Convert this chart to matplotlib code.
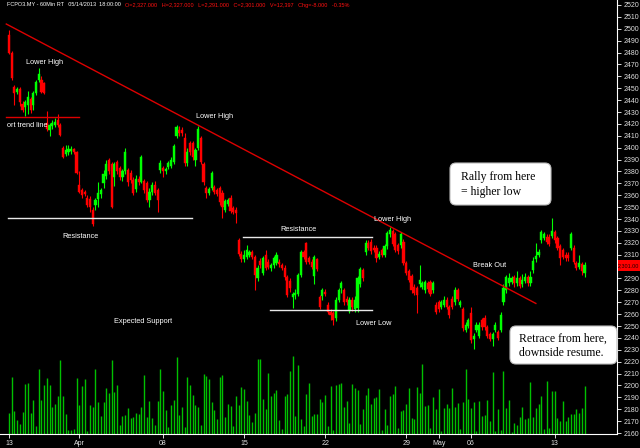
import matplotlib
matplotlib.use("Agg")
import matplotlib.pyplot as plt
from matplotlib.patches import FancyBboxPatch, Rectangle
from matplotlib.transforms import IdentityTransform

plt.rcParams['font.family'] = ['Liberation Sans', 'DejaVu Sans']

# ---------------- data (hourly FCPO3 candles) ----------------
opens = [2495,2480,2451,2447,2449,2437,2434,2436,2441,2436,2446,2457,2457,2454,2421,2415,2418,2419,2423,2419,
         2400,2395,2396,2397,2399,2396,2369,2364,2363,2358,2357,2348,2352,2357,2361,2370,2376,2390,2386,2375,
         2388,2383,2375,2380,2381,2379,2373,2365,2374,2371,2372,2370,2356,2363,2369,2364,2381,2383,2380,2384,
         2385,2388,2410,2415,2415,2408,2387,2404,2404,2390,2400,2408,2386,2366,2362,2366,2367,2364,2366,2362,
         2348,2353,2358,2349,2348,2322,2311,2306,2308,2310,2312,2308,2290,2305,2295,2310,2304,2299,2301,2303,
         2304,2301,2299,2291,2288,2274,2276,2277,2293,2312,2320,2307,2304,2292,2306,2274,2275,2279,2268,2262,
         2261,2257,2272,2282,2280,2273,2263,2272,2264,2265,2285,2297,2312,2320,2321,2316,2316,2308,2314,2310,
         2317,2327,2330,2327,2318,2318,2321,2303,2296,2292,2283,2282,2285,2283,2280,2286,2287,2280,2268,2270,
         2266,2268,2272,2266,2273,2270,2280,2268,2264,2247,2250,2261,2239,2247,2242,2255,2257,2249,2243,2239,
         2247,2245,2247,2270,2280,2286,2287,2291,2286,2290,2285,2288,2291,2286,2297,2306,2310,2322,2324,2325,
         2325,2326,2329,2324,2317,2314,2310,2310,2316,2316,2303,2300,2302,2295]
highs = [2499,2481,2453,2451,2451,2439,2440,2448,2443,2448,2457,2467,2460,2455,2431,2421,2423,2425,2428,2421,
         2401,2402,2402,2401,2400,2397,2380,2366,2364,2360,2359,2350,2358,2371,2366,2381,2390,2391,2388,2388,
         2390,2385,2382,2400,2383,2381,2375,2377,2376,2394,2374,2372,2366,2371,2372,2366,2390,2385,2384,2389,
         2392,2403,2419,2418,2417,2412,2400,2406,2406,2400,2418,2410,2388,2368,2367,2380,2369,2366,2368,2364,
         2357,2358,2360,2351,2350,2324,2313,2314,2318,2314,2314,2310,2301,2307,2309,2314,2306,2303,2309,2312,
         2306,2303,2301,2293,2290,2279,2281,2295,2314,2314,2321,2309,2306,2310,2307,2276,2282,2281,2270,2264,
         2263,2274,2282,2288,2282,2275,2274,2274,2275,2292,2300,2299,2322,2322,2323,2318,2318,2313,2316,2319,
         2330,2333,2332,2329,2320,2329,2323,2305,2298,2294,2285,2284,2301,2288,2289,2288,2289,2288,2270,2272,
         2272,2275,2274,2268,2275,2283,2282,2272,2266,2253,2257,2266,2244,2253,2253,2257,2259,2251,2245,2245,
         2253,2247,2262,2285,2293,2295,2292,2293,2296,2292,2294,2295,2293,2296,2308,2320,2315,2331,2329,2327,
         2327,2341,2331,2326,2319,2316,2312,2312,2329,2318,2305,2310,2304,2304]
lows = [2479,2457,2436,2445,2435,2430,2427,2428,2429,2432,2444,2455,2446,2445,2414,2410,2416,2417,2417,2410,
        2391,2393,2394,2395,2395,2378,2362,2358,2359,2350,2346,2334,2348,2350,2358,2366,2374,2378,2349,2368,
        2378,2373,2372,2378,2368,2370,2360,2363,2369,2370,2362,2354,2350,2360,2360,2346,2379,2375,2378,2382,
        2383,2386,2408,2410,2410,2385,2385,2394,2390,2385,2398,2386,2369,2358,2360,2364,2361,2359,2352,2341,
        2346,2351,2345,2344,2337,2309,2304,2304,2306,2308,2306,2280,2288,2299,2293,2297,2298,2296,2299,2301,
        2300,2297,2289,2274,2279,2265,2273,2275,2291,2306,2302,2302,2298,2285,2296,2264,2272,2275,2260,2255,
        2251,2254,2270,2278,2268,2268,2261,2263,2262,2262,2283,2288,2310,2314,2311,2312,2304,2306,2308,2308,
        2315,2325,2317,2312,2311,2316,2301,2293,2287,2278,2276,2261,2283,2281,2278,2279,2275,2278,2260,2262,
        2264,2266,2264,2257,2264,2268,2271,2266,2246,2245,2248,2236,2231,2245,2240,2247,2247,2240,2237,2233,
        2245,2238,2245,2268,2278,2284,2285,2283,2284,2282,2283,2286,2284,2284,2295,2304,2308,2320,2322,2319,
        2317,2324,2320,2314,2301,2306,2305,2305,2314,2302,2297,2298,2293,2291]
closes = [2480,2459,2446,2449,2438,2432,2438,2443,2432,2446,2455,2462,2447,2446,2416,2419,2421,2422,2419,2411,
          2392,2398,2399,2399,2396,2379,2363,2360,2361,2352,2350,2336,2356,2362,2364,2378,2386,2380,2350,2386,
          2380,2375,2380,2396,2371,2373,2362,2374,2371,2392,2364,2356,2363,2369,2362,2356,2387,2380,2382,2387,
          2390,2401,2417,2412,2412,2387,2396,2396,2392,2398,2416,2388,2371,2362,2365,2379,2363,2361,2354,2350,
          2355,2356,2347,2346,2345,2311,2306,2310,2314,2312,2308,2293,2299,2301,2307,2299,2300,2301,2307,2310,
          2302,2299,2291,2276,2282,2277,2278,2293,2312,2308,2304,2304,2300,2308,2298,2266,2280,2277,2262,2259,
          2255,2272,2280,2286,2270,2270,2272,2266,2272,2290,2298,2290,2320,2316,2313,2314,2307,2311,2310,2317,
          2328,2331,2319,2314,2313,2327,2303,2295,2289,2280,2278,2276,2289,2286,2287,2281,2277,2286,2262,2264,
          2270,2272,2266,2259,2266,2280,2273,2270,2248,2251,2255,2238,2242,2251,2251,2249,2249,2242,2239,2243,
          2251,2240,2259,2282,2291,2290,2290,2286,2290,2284,2289,2291,2286,2291,2305,2309,2312,2329,2327,2321,
          2319,2330,2322,2316,2307,2308,2307,2307,2327,2304,2299,2303,2296,2301]
volumes = [1760,4760,1960,1150,840,1820,4170,4310,1760,2880,700,5490,2830,4140,4680,4140,2270,2550,3160,6190,
           3160,1650,310,310,450,4700,2460,4000,4590,220,2460,2270,5430,2660,1540,2660,3860,3470,6190,3530,
           4090,730,1540,1570,2210,1340,1430,1760,1680,2240,4960,1400,2740,1340,730,2740,5430,3640,2040,620,
           2460,2860,6470,1620,2270,560,4760,4090,3250,2440,2270,780,5040,4840,4620,2660,1990,1260,4790,4980,
           1430,2520,2350,640,3220,2460,3950,3750,2740,1620,980,1790,6330,6330,2970,2100,5100,3190,3440,3670,
           1150,420,3220,3390,5260,6580,1510,5770,1260,640,3390,4260,1540,1710,1680,2940,2690,3280,670,4000,
           310,4090,4170,4260,2240,2800,920,4230,3860,3700,870,2100,3300,3890,2520,3000,3080,3750,310,2130,
           780,3220,3330,4060,480,1960,2040,2490,3860,1370,1290,3920,3440,5880,2320,2410,500,3080,2130,3780,
           220,2210,2490,2180,3860,2240,2600,390,2660,5490,2940,2180,2660,220,2740,1480,1620,2880,1060,5240,
           220,2130,360,5320,2180,2880,140,920,780,1460,2270,1290,1370,4340,1460,2210,2520,3190,420,4480,
           530,3580,3640,1370,1060,2800,1090,1460,1680,1680,2070,1740,2180,4000]

tick_idx = [0, 26, 57, 87, 117, 147, 159, 171, 202]
tick_labels = ['13', 'Apr', '08', '15', '22', '29', 'May', '06', '13']
price_ticks = list(range(2160, 2521, 10))
last_price = 2301.0

trend_x = [-1, 195]
trend_y = [2504, 2269]
short_trend = ([-1, 26], 2426)
resist1 = ([-0.5, 67.7], 2341)
resist2 = ([86.6, 134.3], 2325)
support = ([96.6, 134.3], 2263.5)

labels = [("Lower High", 13.3, 2472), ("Lower High", 75.9, 2426.6), ("Lower High", 142, 2340),
          ("Resistance", 26.3, 2325), ("Resistance", 107.3, 2331), ("Lower Low", 135, 2252.5),
          ("Expected Support", 49.6, 2254), ("Break Out", 178, 2301)]

# ---------------- figure ----------------
W, H = 640, 448
fig = plt.figure(figsize=(W / 100, H / 100), dpi=100, facecolor='black')
ax = fig.add_axes([0, 14 / H, 617 / W, 434 / H])
ax.set_facecolor('black')
ax2 = ax.twinx()
ax.set_zorder(2)
ax.patch.set_visible(False)
ax2.set_facecolor('black')

n = len(closes)
dx = 575.5 / (n - 1)
xs = list(range(n))

# volume
ax2.vlines(xs, 0, volumes, color='#00c000', linewidth=1.0)
ax2.set_ylim(0, (2524.2 - 2159.2) * 100)
ax2.set_yticks([])
for s in ax2.spines.values():
    s.set_visible(False)

# candles
body_w = 0.8
for i in xs:
    o, h, l, c = opens[i], highs[i], lows[i], closes[i]
    col = '#00ff00' if c >= o else '#ff0000'
    ax.vlines(i, l, h, color=col, linewidth=0.8)
    lo, hi = min(o, c), max(o, c)
    ax.bar(i, max(hi - lo, 0.8), bottom=lo, width=body_w, color=col,
           edgecolor=col, linewidth=0.3)

# lines
ax.plot(trend_x, trend_y, color='#dd0000', linewidth=1.0)
ax.plot(short_trend[0], [short_trend[1]] * 2, color='#dd0000', linewidth=1.0)
for seg in (resist1, resist2, support):
    ax.plot(seg[0], [seg[1]] * 2, color='#e8e8e8', linewidth=1.0)

ax.text(-0.9, 2419, "ort trend line", color='white', fontsize=5.3, va='center', ha='left')
for t, x, y in labels:
    ax.text(x, y, t, color='white', fontsize=5.3, ha='center', va='center')

ax.set_xlim(-9 / dx, 608 / dx)
ax.set_ylim(2159.2, 2524.2)

ax.yaxis.tick_right()
ax.set_yticks(price_ticks)
# the 2300 label is hidden under the last-price tag in the original
ax.set_yticklabels(['' if p == 2300 else str(p) for p in price_ticks])
ax.set_xticks(tick_idx)
ax.set_xticklabels(tick_labels)
ax.tick_params(axis='y', direction='out', length=3, width=0.6, color='white',
               labelcolor='#e0e0e0', labelsize=5.0, pad=2)
ax.tick_params(axis='x', direction='out', length=3, width=0.6, color='white',
               labelcolor='#e0e0e0', labelsize=5.0, pad=1)
for side in ('top', 'left'):
    ax.spines[side].set_visible(False)
for side in ('right', 'bottom'):
    ax.spines[side].set_color('white')
    ax.spines[side].set_linewidth(0.8)

# header
fig.text(7 / W, 1 - 5 / H, "FCPO3.MY - 60Min RT   05/14/2013  18:00:00", color='white',
         fontsize=4.0, va='center', ha='left')
fig.text(125 / W, 1 - 5 / H,
         "O=2,327.000   H=2,327.000   L=2,291.000   C=2,301.000   V=12,397   Chg=-8.000   -0.35%",
         color='#ff1010', fontsize=4.0, va='center', ha='left')

# current price tag
tag = Rectangle((617.5, H - 271), 22.5, 11, facecolor='#ff0000', edgecolor='none',
                transform=IdentityTransform(), zorder=10)
fig.add_artist(tag)
fig.text(628.8 / W, 1 - 265.5 / H, f"{last_price:,.2f}", color='#200000', fontsize=3.9,
         va='center', ha='center', zorder=11)

# annotation boxes (pixel coordinates)
for (x0, ytop, w, h) in [(450, 163, 101, 42), (510, 326, 107, 38)]:
    p = FancyBboxPatch((x0, H - ytop - h), w, h, boxstyle="round,pad=0,rounding_size=6",
                       facecolor='white', edgecolor='#bbbbbb', linewidth=0.8,
                       transform=IdentityTransform(), zorder=10)
    fig.add_artist(p)

serif = ['Liberation Serif', 'DejaVu Serif']
fig.text(461 / W, 1 - 177 / H, "Rally from here", family=serif, fontsize=8.5, color='black',
         va='center', ha='left', zorder=11)
fig.text(461 / W, 1 - 192 / H, "= higher low", family=serif, fontsize=8.5, color='black',
         va='center', ha='left', zorder=11)
fig.text(519 / W, 1 - 339 / H, "Retrace from here,", family=serif, fontsize=8.5, color='black',
         va='center', ha='left', zorder=11)
fig.text(519 / W, 1 - 353 / H, "downside resume.", family=serif, fontsize=8.5, color='black',
         va='center', ha='left', zorder=11)

fig.savefig("out.png", dpi=100, facecolor='black')
